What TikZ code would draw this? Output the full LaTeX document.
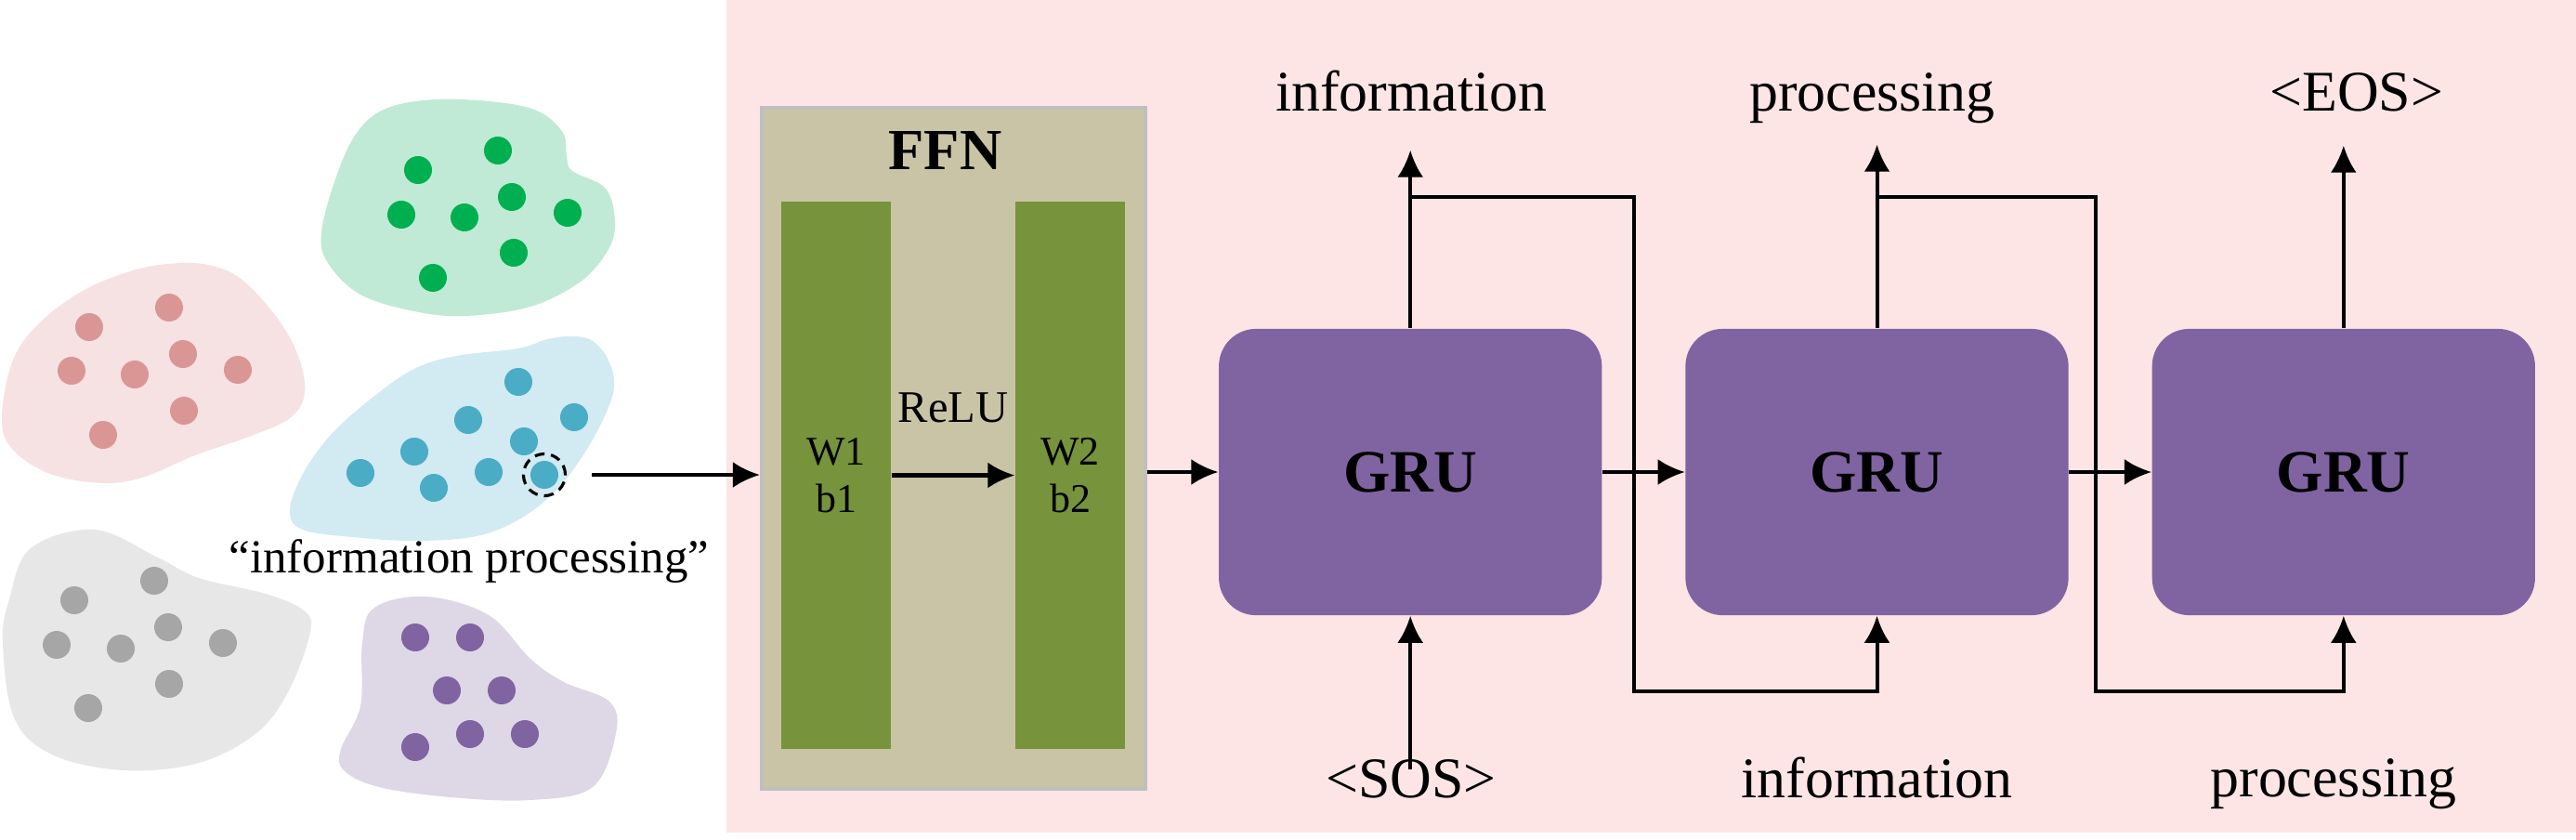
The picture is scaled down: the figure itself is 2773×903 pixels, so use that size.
\documentclass[tikz,border=0pt]{standalone}
\usepackage{fontspec}
\setmainfont{Liberation Serif}
\usetikzlibrary{arrows.meta,positioning,calc}

\definecolor{bgpink}{RGB}{253,229,229}
\definecolor{ffnfill}{RGB}{201,196,165}
\definecolor{ffnline}{RGB}{191,191,191}
\definecolor{barc}{RGB}{119,147,60}
\definecolor{gruc}{RGB}{128,100,162}
\definecolor{grblob}{RGB}{192,234,213}
\definecolor{grdot}{RGB}{0,176,80}
\definecolor{rdblob}{RGB}{246,226,226}
\definecolor{rddot}{RGB}{218,150,148}
\definecolor{blblob}{RGB}{210,234,241}
\definecolor{bldot}{RGB}{75,172,198}
\definecolor{gyblob}{RGB}{231,231,231}
\definecolor{gydot}{RGB}{166,166,166}
\definecolor{publob}{RGB}{222,215,229}
\definecolor{pudot}{RGB}{128,100,162}

\tikzset{
  arr/.style={line width=1.15pt,-{Latex[length=2.9mm,width=2.8mm]}},
  gru/.style={fill=gruc,rounded corners=0.4cm,minimum width=4.12cm,minimum height=3.08cm,
    inner sep=0pt,font=\bfseries\fontsize{18.4}{22}\selectfont},
  bar/.style={fill=barc,minimum width=1.18cm,minimum height=5.89cm,inner sep=0pt,
    align=center,font=\fontsize{12.5}{14.5}\selectfont},
  lbl/.style={inner sep=0pt,anchor=base,text depth=0pt,font=\fontsize{17.6}{21}\selectfont},
  inlbl/.style={lbl,text height=0.83em},
  blob/.style={smooth cycle,tension=0.6},
}

\begin{document}
\begin{tikzpicture}[x=0.01cm,y=-0.01cm]
    \useasboundingbox (0,0) rectangle (2773,903);
    \fill[bgpink] (782,0) rectangle (2773,896);

    % clusters of words
    \fill[grblob] plot[blob] coordinates {(469,107) (536,110) (580,120) (606,143) (610,168) (616,184) (652,203) (662,240) (654,270) (625,303) (571,330) (500,340) (446,335) (388,317) (353,283) (346,250) (362,190) (384,143) (415,117)};
    \fill[rdblob] plot[blob] coordinates {(196,283) (232,287) (263,303) (299,343) (321,383) (328,423) (312,450) (268,470) (210,490) (156,513) (112,520) (54,510) (13,483) (2,450) (13,390) (40,350) (89,313) (147,290)};
    \fill[blblob] plot[blob] coordinates {(616,362) (638,367) (656,390) (660,423) (638,473) (603,523) (562,557) (513,577) (446,582) (379,578) (326,570) (312,550) (326,510) (357,467) (402,427) (446,397) (491,383) (558,375) (589,365)};
    \fill[gyblob] plot[blob] coordinates {(33,590) (102,570) (168,599) (214,622) (286,639) (327,657) (334,680) (311,743) (276,789) (214,821) (133,829) (56,812) (15,772) (3,691) (10,645)};
    \fill[publob] plot[blob] coordinates {(403,654) (459,642) (526,662) (571,709) (607,734) (656,755) (663,789) (638,847) (571,861) (485,858) (408,847) (370,829) (367,806) (388,760) (390,691)};

    \foreach \p in {(450,183),(536,162),(432,231),(500,234),(551,212),(611,229),(553,272),(466,299)}
      \fill[grdot] \p circle (0.15cm);
    \foreach \p in {(96,352),(182,331),(77,399),(145,403),(197,381),(256,398),(198,442),(111,468)}
      \fill[rddot] \p circle (0.15cm);
    \foreach \p in {(558,411),(504,452),(618,449),(446,486),(564,475),(388,509),(467,525),(526,508),(586,511)}
      \fill[bldot] \p circle (0.15cm);
    \foreach \p in {(80,646),(166,625),(61,694),(130,698),(181,675),(240,692),(182,736),(95,762)}
      \fill[gydot] \p circle (0.15cm);
    \foreach \p in {(447,686),(506,686),(481,743),(540,743),(506,790),(565,790),(447,804)}
      \fill[pudot] \p circle (0.15cm);

    \node[draw,circle,dashed,dash pattern=on 3pt off 2pt,line width=0.9pt,minimum size=0.45cm,inner sep=0pt] (sel) at (586,511) {};
    \node[lbl,font=\fontsize{14.5}{17}\selectfont] (phrase) at (505,616) {“information processing”};

    % feed forward block
    \node[fill=ffnfill,draw=ffnline,line width=1.15pt,minimum width=4.13cm,minimum height=7.33cm] (ffn) at (1026.5,482.5) {};
    \node[font=\bfseries\fontsize{17.8}{21}\selectfont,inner sep=0pt] (ffntitle) at ([shift={(-9,-320)}]ffn) {FFN};
    \node[bar] (w1) at ([shift={(-126.5,29)}]ffn) {W1\\b1};
    \node[bar] (w2) at ([shift={(125.5,29)}]ffn) {W2\\b2};

    \draw[arr,shorten <=0.27cm] (sel.east) -- (sel.east -| ffn.west);
    \draw[arr] (w1) -- node[above=0.54cm,inner sep=0pt,font=\fontsize{13.8}{16}\selectfont] (relu) {ReLU} (w2);

    % decoder
    \matrix (dec) [column sep=0.9cm,nodes={gru}] at (2020.5,508) {
      \node (gru1) {GRU}; &
      \node (gru2) {GRU}; &
      \node (gru3) {GRU}; \\
    };

    \node[lbl] (out1) at ([shift={(1,-389)}]gru1) {information};
    \node[lbl] (out2) at ([shift={(-5,-389)}]gru2) {processing};
    \node[lbl] (out3) at ([shift={(14,-389)}]gru3) {<EOS>};
    \node[inlbl] (in1) at ([shift={(1,350)}]gru1) {<SOS>};
    \node[inlbl] (in2) at ([shift={(0,350)}]gru2) {information};
    \node[inlbl] (in3) at ([shift={(-11,349)}]gru3) {processing};

    \draw[arr] (gru1 -| ffn.east) -- (gru1.west);
    \draw[arr] (gru1) -- (gru2);
    \draw[arr] (gru2) -- (gru3);

    \draw[arr,shorten >=0.42cm] (gru1.north) -- (gru1.north |- out1.south);
    \draw[arr,shorten >=0.36cm] (gru2.north) -- (gru2.north |- out2.south);
    \draw[arr,shorten >=0.37cm] (gru3.north) -- (gru3.north |- out3.south);
    \draw[arr] (gru1.south |- in1.north) -- (gru1.south);

    \coordinate (br1) at (1519,212);
    \coordinate (br2) at (2021,212);
    \coordinate (lp1) at (1759,744);
    \coordinate (lp2) at (2256,744);
    \draw[arr] (br1) -| (lp1) -| (gru2.south);
    \draw[arr] (br2) -| (lp2) -| (gru3.south);
\end{tikzpicture}
\end{document}
